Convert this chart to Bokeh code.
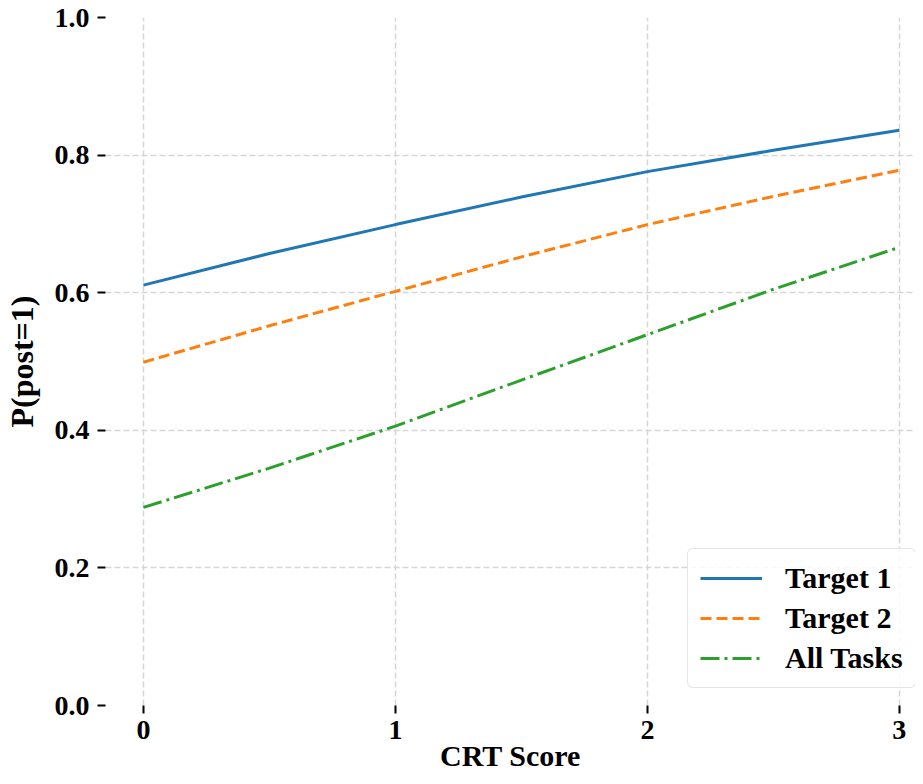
from bokeh.plotting import figure
from bokeh.models import Range1d, FixedTicker, Legend, LegendItem
from bokeh.embed import file_html
from bokeh.resources import INLINE

crt = [0, 0.5, 1, 1.5, 2, 2.5, 3]
target1 = [0.611, 0.657, 0.699, 0.739, 0.776, 0.807, 0.836]
target2 = [0.499, 0.552, 0.602, 0.652, 0.699, 0.740, 0.778]
all_tasks = [0.288, 0.345, 0.406, 0.473, 0.539, 0.605, 0.666]

x_ticks = [0, 1, 2, 3]
y_ticks = [0.0, 0.2, 0.4, 0.6, 0.8, 1.0]
y_tick_labels = {0.0: "0.0", 0.2: "0.2", 0.4: "0.4", 0.6: "0.6", 0.8: "0.8", 1.0: "1.0"}
x_title = "CRT Score"
y_title = "P(post=1)"

FONT = "Liberation Serif"
FS = "28px"
FS_LABEL = "30px"

p = figure(width=915, height=776, output_backend="svg", toolbar_location=None,
           x_range=Range1d(-0.1506, 3.064), y_range=Range1d(0, 1),
           min_border_left=104, min_border_right=0, min_border_top=17, min_border_bottom=71)
p.outline_line_color = None
p.background_fill_color = "white"
p.border_fill_color = "white"

r1 = p.line(crt, target1, line_color="#1f77b4", line_width=3)
r2 = p.line(crt, target2, line_color="#ff7f0e", line_width=3, line_dash="11 5")
r3 = p.line(crt, all_tasks, line_color="#2ca02c", line_width=3, line_dash="19 5 3 5")

for ax in (p.xaxis[0], p.yaxis[0]):
    ax.axis_line_color = None
    ax.major_tick_line_color = "black"
    ax.major_tick_line_width = 2
    ax.major_tick_in = 0
    ax.major_tick_out = 8
    ax.minor_tick_line_color = None
    ax.major_label_text_font = FONT
    ax.major_label_text_font_style = "bold"
    ax.major_label_text_font_size = FS
    ax.major_label_text_color = "black"
    ax.axis_label_text_font = FONT
    ax.axis_label_text_font_style = "bold"
    ax.axis_label_text_color = "black"
    ax.major_label_standoff = 8

p.xaxis[0].ticker = FixedTicker(ticks=x_ticks)
p.yaxis[0].ticker = FixedTicker(ticks=y_ticks)
p.yaxis[0].major_label_overrides = y_tick_labels
p.yaxis[0].axis_label = y_title
p.yaxis[0].axis_label_text_font_size = "32px"
p.yaxis[0].axis_label_standoff = 12
p.xaxis[0].axis_label = x_title
p.xaxis[0].axis_label_text_font_size = FS_LABEL
p.xaxis[0].major_label_standoff = 7
p.xaxis[0].axis_label_standoff = -3

for g in (p.xgrid[0], p.ygrid[0]):
    g.grid_line_color = "#d6d6d6"
    g.grid_line_width = 1.5
    g.grid_line_dash = "6 3"
p.xgrid[0].ticker = FixedTicker(ticks=x_ticks)
p.ygrid[0].ticker = FixedTicker(ticks=y_ticks)

legend = Legend(items=[LegendItem(label="Target 1", renderers=[r1]),
                       LegendItem(label="Target 2", renderers=[r2]),
                       LegendItem(label="All Tasks", renderers=[r3])],
                location=(582, 17))
legend.label_text_font = FONT
legend.label_text_font_style = "bold"
legend.label_text_font_size = FS_LABEL
legend.label_text_color = "black"
legend.glyph_width = 62
legend.glyph_height = 34
legend.label_height = 34
legend.label_standoff = 23
legend.spacing = 6
legend.padding = 12
legend.margin = 0
legend.border_line_color = "#cccccc"
legend.border_line_width = 1.5
legend.border_radius = 6
legend.background_fill_color = "white"
legend.background_fill_alpha = 0.85
p.add_layout(legend)

open("out.html", "w").write(file_html(p, INLINE))
